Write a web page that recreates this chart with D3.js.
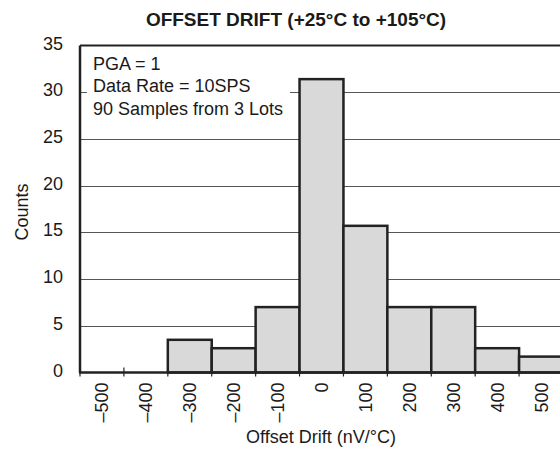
<!DOCTYPE html>
<html>
<head>
<meta charset="utf-8">
<script src="https://cdn.jsdelivr.net/npm/d3@7"></script>
<style>
  html, body { margin: 0; padding: 0; background: #fff; }
  svg { display: block; }
  text { font-family: "Liberation Sans", Arial, sans-serif; fill: #1a1a1a; }
</style>
</head>
<body>
<svg id="chart" width="560" height="452"></svg>
<script>
// ---- Data ----
const categories = [-500, -400, -300, -200, -100, 0, 100, 200, 300, 400, 500];
const counts = [0, 0, 3.5, 2.6, 7, 31.4, 15.7, 7, 7, 2.6, 1.7];
const yTicks = [0, 5, 10, 15, 20, 25, 30, 35];
const gridValues = [5, 10, 15, 20, 25, 30];
const title = "OFFSET DRIFT (+25\u00B0C to +105\u00B0C)";
const xTitle = "Offset Drift (nV/\u00B0C)";
const yTitle = "Counts";
const notes = ["PGA = 1", "Data Rate = 10SPS", "90 Samples from 3 Lots"];

// ---- Layout ----
const mLeft = 80, mRight = 563, mTop = 45.5, mBottom = 372.5;
const svg = d3.select("#chart");

const x = d3.scaleBand().domain(categories).range([mLeft, mRight]).padding(0);
const y = d3.scaleLinear().domain([0, 35]).range([mBottom, mTop]);

// gridlines
svg.append("g").selectAll("line").data(gridValues).join("line")
  .attr("x1", mLeft).attr("x2", 560)
  .attr("y1", d => Math.round(y(d)) + 0.5).attr("y2", d => Math.round(y(d)) + 0.5)
  .attr("stroke", "#555").attr("stroke-width", 1);

// annotation box (white background covering gridline)
svg.append("rect").attr("x", 87).attr("y", 50).attr("width", 203).attr("height", 75).attr("fill", "#fff");
svg.append("g").selectAll("text").data(notes).join("text")
  .attr("x", 93).attr("y", (d, i) => 70 + i * 22.3)
  .attr("font-size", 18).text(d => d);

// bars
svg.append("g").selectAll("rect").data(categories.map((c, i) => ({c, v: counts[i]})).filter(d => d.v > 0))
  .join("rect")
  .attr("x", d => x(d.c)).attr("width", x.bandwidth())
  .attr("y", d => y(d.v)).attr("height", d => y(0) - y(d.v))
  .attr("fill", "#d9d9d9").attr("stroke", "#222").attr("stroke-width", 2.5);

// frame: top and left
svg.append("line").attr("x1", mLeft).attr("x2", 560).attr("y1", mTop).attr("y2", mTop)
  .attr("stroke", "#222").attr("stroke-width", 2);
svg.append("line").attr("x1", mLeft).attr("x2", mLeft).attr("y1", mTop).attr("y2", mBottom)
  .attr("stroke", "#222").attr("stroke-width", 2.5);

// x axis with ticks at bin edges
const edges = categories.map(c => x(c)).concat([mRight]);
svg.append("line").attr("x1", mLeft - 1).attr("x2", 560).attr("y1", mBottom).attr("y2", mBottom)
  .attr("stroke", "#222").attr("stroke-width", 2.5);
svg.append("g").selectAll("line").data(edges).join("line")
  .attr("x1", d => d).attr("x2", d => d).attr("y1", mBottom - 5).attr("y2", mBottom + 4)
  .attr("stroke", "#222").attr("stroke-width", 1.2);

// x tick labels (rotated)
svg.append("g").selectAll("text").data(categories).join("text")
  .attr("transform", d => `translate(${x(d) + x.bandwidth() / 2 + 6.5},${mBottom + 10}) rotate(-90)`)
  .attr("text-anchor", "end").attr("font-size", 18)
  .text(d => d < 0 ? "\u2013" + Math.abs(d) : String(d));

// y tick labels
svg.append("g").selectAll("text").data(yTicks).join("text")
  .attr("x", 63).attr("y", d => y(d) + 4)
  .attr("text-anchor", "end").attr("font-size", 18)
  .text(d => d);

// titles
svg.append("text").attr("x", 296).attr("y", 26).attr("text-anchor", "middle")
  .attr("font-size", 19).attr("font-weight", "bold").text(title);
svg.append("text").attr("x", 321).attr("y", 443).attr("text-anchor", "middle")
  .attr("font-size", 18).text(xTitle);
svg.append("text").attr("transform", "translate(28,212) rotate(-90)").attr("text-anchor", "middle")
  .attr("font-size", 18).text(yTitle);
</script>
</body>
</html>
